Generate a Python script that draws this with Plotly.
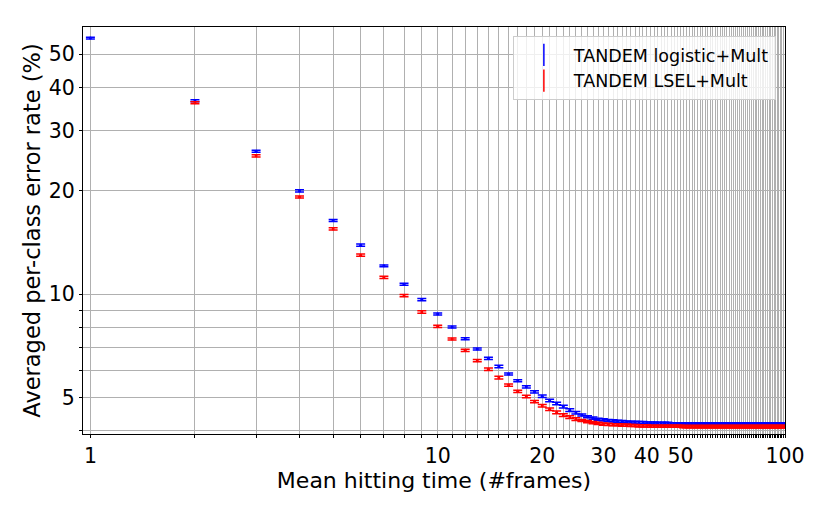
import plotly.graph_objects as go

# mean hitting time (#frames)
hitting_time = list(range(1, 101))

# averaged per-class error rate (%)
logistic_err = [
    55.7, 36.6, 26.1, 20.0, 16.4, 13.9, 12.1, 10.7, 9.65, 8.76,
    8.03, 7.42, 6.93, 6.51, 6.16, 5.86, 5.60, 5.38, 5.20, 5.05,
    4.91, 4.81, 4.71, 4.60, 4.52, 4.45, 4.40, 4.36, 4.33, 4.31,
    4.29, 4.28, 4.27, 4.26, 4.25, 4.24, 4.24, 4.23, 4.23, 4.22,
    4.22, 4.22, 4.21, 4.21, 4.21, 4.21, 4.20, 4.20, 4.20, 4.20,
    4.20, 4.20, 4.20, 4.20, 4.20, 4.20, 4.20, 4.20, 4.20, 4.20,
    4.19, 4.19, 4.19, 4.19, 4.19, 4.19, 4.19, 4.19, 4.19, 4.19,
    4.19, 4.19, 4.19, 4.19, 4.19, 4.19, 4.19, 4.19, 4.19, 4.19,
    4.19, 4.19, 4.19, 4.19, 4.19, 4.19, 4.19, 4.19, 4.19, 4.19,
    4.19, 4.19, 4.19, 4.19, 4.19, 4.19, 4.19, 4.19, 4.19, 4.19,
]
lsel_err = [
    None, 36.1, 25.3, 19.2, 15.5, 13.0, 11.2, 9.91, 8.88, 8.07,
    7.41, 6.87, 6.41, 6.05, 5.72, 5.44, 5.22, 5.04, 4.87, 4.74,
    4.63, 4.53, 4.45, 4.39, 4.33, 4.29, 4.26, 4.23, 4.21, 4.19,
    4.18, 4.17, 4.17, 4.16, 4.16, 4.15, 4.15, 4.14, 4.14, 4.14,
    4.13, 4.13, 4.13, 4.13, 4.13, 4.13, 4.13, 4.13, 4.13, 4.13,
    4.12, 4.12, 4.12, 4.12, 4.12, 4.12, 4.12, 4.12, 4.12, 4.12,
    4.12, 4.12, 4.12, 4.12, 4.12, 4.12, 4.12, 4.12, 4.12, 4.12,
    4.12, 4.12, 4.12, 4.12, 4.12, 4.12, 4.12, 4.12, 4.12, 4.12,
    4.12, 4.12, 4.12, 4.12, 4.12, 4.12, 4.12, 4.12, 4.12, 4.12,
    4.12, 4.12, 4.12, 4.12, 4.12, 4.12, 4.12, 4.12, 4.12, 4.12,
]

# standard errors
logistic_sem = [
    0.30, 0.25, 0.18, 0.14, 0.11, 0.10, 0.08, 0.07, 0.07, 0.06,
    0.05, 0.05, 0.05, 0.05, 0.05, 0.04, 0.04, 0.04, 0.04, 0.04,
    0.04, 0.04, 0.04, 0.04, 0.04, 0.03, 0.03, 0.03, 0.03, 0.03,
    0.03, 0.03, 0.03, 0.03, 0.03, 0.03, 0.03, 0.03, 0.03, 0.03,
    0.03, 0.03, 0.03, 0.03, 0.03, 0.03, 0.03, 0.03, 0.03, 0.03,
    0.03, 0.03, 0.03, 0.03, 0.03, 0.03, 0.03, 0.03, 0.03, 0.03,
    0.03, 0.03, 0.03, 0.03, 0.03, 0.03, 0.03, 0.03, 0.03, 0.03,
    0.03, 0.03, 0.03, 0.03, 0.03, 0.03, 0.03, 0.03, 0.03, 0.03,
    0.03, 0.03, 0.03, 0.03, 0.03, 0.03, 0.03, 0.03, 0.03, 0.03,
    0.03, 0.03, 0.03, 0.03, 0.03, 0.03, 0.03, 0.03, 0.03, 0.03,
]
lsel_sem = [
    0.00, 0.25, 0.18, 0.14, 0.11, 0.10, 0.08, 0.07, 0.07, 0.06,
    0.05, 0.05, 0.05, 0.05, 0.05, 0.04, 0.04, 0.04, 0.04, 0.04,
    0.04, 0.04, 0.04, 0.04, 0.04, 0.03, 0.03, 0.03, 0.03, 0.03,
    0.03, 0.03, 0.03, 0.03, 0.03, 0.03, 0.03, 0.03, 0.03, 0.03,
    0.03, 0.03, 0.03, 0.03, 0.03, 0.03, 0.03, 0.03, 0.03, 0.03,
    0.03, 0.03, 0.03, 0.03, 0.03, 0.03, 0.03, 0.03, 0.03, 0.03,
    0.03, 0.03, 0.03, 0.03, 0.03, 0.03, 0.03, 0.03, 0.03, 0.03,
    0.03, 0.03, 0.03, 0.03, 0.03, 0.03, 0.03, 0.03, 0.03, 0.03,
    0.03, 0.03, 0.03, 0.03, 0.03, 0.03, 0.03, 0.03, 0.03, 0.03,
    0.03, 0.03, 0.03, 0.03, 0.03, 0.03, 0.03, 0.03, 0.03, 0.03,
]

x_labels = {1: "1", 10: "10", 20: "20", 30: "30", 40: "40", 50: "50", 100: "100"}
y_ticks = [4, 5, 6, 7, 8, 9, 10, 20, 30, 40, 50]
y_labels = ["", "5", "", "", "", "", "10", "20", "30", "40", "50"]

series = [
    ("TANDEM logistic+Mult", logistic_err, logistic_sem, "blue"),
    ("TANDEM LSEL+Mult", lsel_err, lsel_sem, "red"),
]

fig = go.Figure()
for name, vals, sem, color in series:
    fig.add_trace(go.Scatter(
        x=hitting_time, y=vals, mode="markers", name=name, showlegend=False,
        marker=dict(color=color, size=3),
        error_y=dict(type="data", array=sem, color=color, thickness=1.5, width=4.5),
    ))
    # legend entry (errorbar look-alike)
    fig.add_trace(go.Scatter(
        x=[None], y=[None], mode="markers", name=name,
        marker=dict(color=color, symbol="line-ns-open", size=18,
                    line=dict(color=color, width=1.5)),
    ))

grid = "#b0b0b0"
fig.update_xaxes(
    type="log", range=[-0.0213, 2.0],
    tickvals=hitting_time,
    ticktext=[x_labels.get(v, "") for v in hitting_time],
    tickfont=dict(size=20.5),
    showgrid=True, gridcolor=grid, gridwidth=0.8,
    showline=True, linecolor="black", linewidth=1, mirror=True,
    ticks="outside", ticklen=3, tickcolor="black",
    title=dict(text="Mean hitting time (#frames)", standoff=2, font=dict(size=22)),
    zeroline=False,
)
fig.update_yaxes(
    type="log", range=[0.5933, 1.7782],
    tickvals=y_ticks, ticktext=y_labels,
    tickfont=dict(size=20.5),
    showgrid=True, gridcolor=grid, gridwidth=0.8,
    showline=True, linecolor="black", linewidth=1, mirror=True,
    ticks="outside", ticklen=3, tickcolor="black",
    title=dict(text="Averaged per-class error rate (%)", standoff=1, font=dict(size=22.5)),
    zeroline=False,
)
# page body adds 8px offset, so margins are shifted to land the plot area in place
fig.update_layout(
    width=830, height=511,
    margin=dict(l=75, r=53, t=19, b=85),
    plot_bgcolor="white", paper_bgcolor="white",
    font=dict(family="DejaVu Sans", size=20, color="black"),
    legend=dict(
        x=0.987, y=0.978, xanchor="right", yanchor="top",
        bgcolor="rgba(255,255,255,0.8)", bordercolor="#cccccc", borderwidth=1,
        font=dict(size=17.5), tracegroupgap=2, itemwidth=50,
    ),
)

fig.write_html("out.html")
